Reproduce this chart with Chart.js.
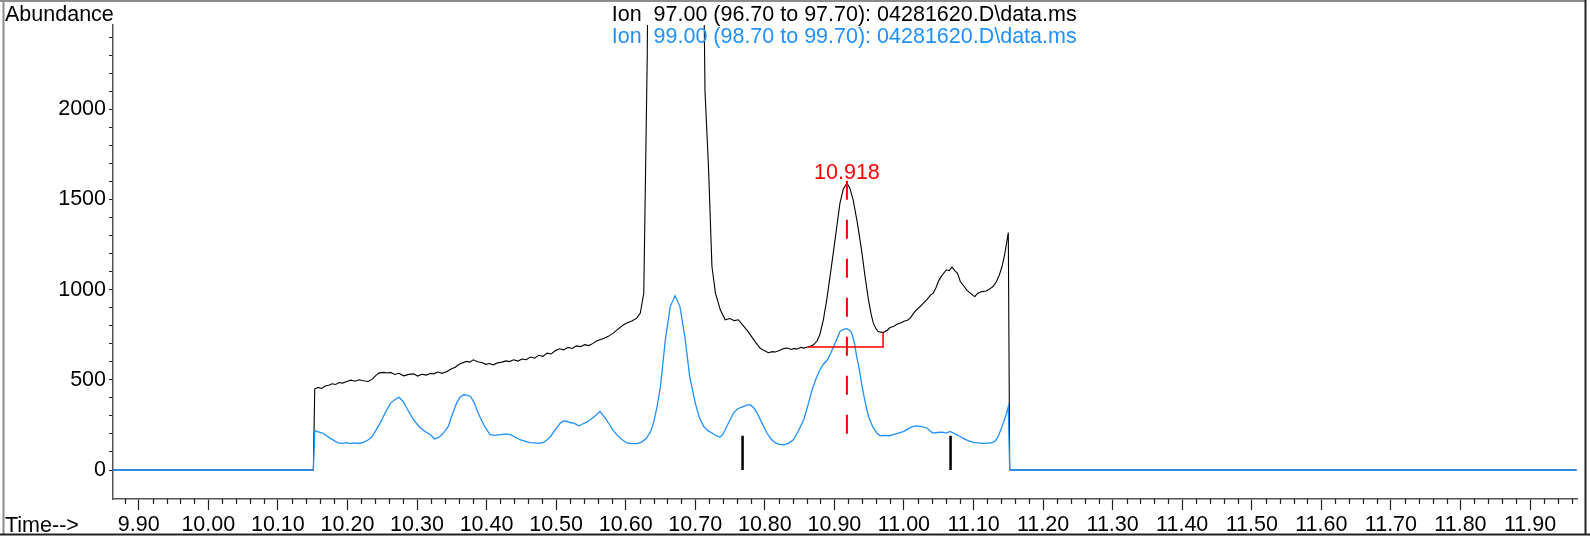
<!DOCTYPE html>
<html>
<head>
<meta charset="utf-8">
<script src="https://cdn.jsdelivr.net/npm/chart.js@4/dist/chart.umd.min.js"></script>
<style>
    html, body { margin: 0; padding: 0; background: #fff; }
    canvas { display: block; }
</style>
</head>
<body>
<canvas id="chromatogram" width="1590" height="540"></canvas>
<script>
const x_tick_labels = [
    "9.90", "10.00", "10.10", "10.20", "10.30", "10.40", "10.50", "10.60", "10.70", "10.80", "10.90",
    "11.00", "11.10", "11.20", "11.30", "11.40", "11.50", "11.60", "11.70", "11.80", "11.90"
]
const y_tick_labels = ["0", "500", "1000", "1500", "2000"]

const title_ion_97 = "Ion  97.00 (96.70 to 97.70): 04281620.D\\data.ms"
const title_ion_99 = "Ion  99.00 (98.70 to 99.70): 04281620.D\\data.ms"

// Ion 97 trace (black)
const time_ion_97 = [
    9.863, 10.151, 10.153, 10.158, 10.163, 10.168, 10.173, 10.178, 10.183, 10.188, 10.193, 10.199,
    10.205, 10.211, 10.217, 10.223, 10.230, 10.236, 10.241, 10.245, 10.252, 10.258, 10.262, 10.268,
    10.274, 10.281, 10.288, 10.295, 10.301, 10.307, 10.313, 10.319, 10.324, 10.330, 10.336, 10.343,
    10.349, 10.355, 10.360, 10.365, 10.371, 10.376, 10.381, 10.387, 10.393, 10.399, 10.404, 10.410,
    10.416, 10.422, 10.428, 10.433, 10.439, 10.445, 10.451, 10.457, 10.463, 10.469, 10.475, 10.481,
    10.487, 10.493, 10.499, 10.505, 10.511, 10.517, 10.523, 10.529, 10.535, 10.541, 10.547, 10.553,
    10.558, 10.563, 10.569, 10.575, 10.582, 10.589, 10.597, 10.603, 10.609, 10.616, 10.621, 10.626,
    10.631, 10.636, 10.645, 10.655, 10.665, 10.672, 10.680, 10.690, 10.700, 10.708, 10.714, 10.719,
    10.724, 10.729, 10.736, 10.743, 10.750, 10.756, 10.762, 10.768, 10.774, 10.780, 10.786, 10.793,
    10.799, 10.805, 10.811, 10.815, 10.821, 10.827, 10.832, 10.838, 10.842, 10.846, 10.852, 10.856,
    10.860, 10.866, 10.870, 10.875, 10.879, 10.884, 10.889, 10.894, 10.899, 10.904, 10.908, 10.913,
    10.918, 10.922, 10.927, 10.933, 10.939, 10.944, 10.949, 10.953, 10.956, 10.960, 10.963, 10.970,
    10.976, 10.980, 10.985, 10.990, 10.995, 11.000, 11.005, 11.009, 11.014, 11.018, 11.023, 11.028,
    11.033, 11.038, 11.042, 11.046, 11.050, 11.054, 11.057, 11.061, 11.065, 11.069, 11.073, 11.077,
    11.081, 11.086, 11.090, 11.095, 11.099, 11.102, 11.106, 11.112, 11.118, 11.123, 11.128, 11.133,
    11.137, 11.141, 11.145, 11.150, 11.152, 11.967
]
const abundance_ion_97 = [
    0, 0, 450, 458, 452, 466, 470, 478, 474, 485, 482, 491,
    498, 492, 500, 495, 491, 505, 525, 537, 541, 538, 541, 530,
    536, 522, 530, 533, 521, 531, 526, 535, 533, 543, 536, 546,
    560, 570, 585, 593, 602, 598, 611, 600, 596, 586, 590, 583,
    594, 598, 605, 601, 611, 604, 615, 611, 626, 620, 636, 630,
    648, 643, 662, 672, 666, 680, 674, 688, 684, 695, 690, 702,
    715, 722, 730, 741, 759, 781, 805, 818, 826, 842, 870, 981,
    2300, 5200, 11000, 18000, 22500, 23500, 21500, 15500, 9000, 4200, 2100, 1682,
    1128, 981, 888, 833, 840, 828, 833, 805, 777, 745, 712, 676,
    662, 650, 656, 654, 662, 673, 676, 668, 674, 670, 680, 676,
    681, 688, 694, 715, 750, 830, 943, 1080, 1220, 1365, 1479, 1560,
    1590, 1565, 1497, 1370, 1220, 1075, 943, 860, 814, 782, 768, 762,
    775, 790, 796, 808, 815, 825, 830, 842, 870, 888, 905, 925,
    945, 968, 981, 1010, 1050, 1075, 1091, 1110, 1105, 1125, 1105, 1090,
    1045, 1020, 999, 982, 968, 962, 980, 989, 992, 1003, 1017, 1045,
    1080, 1128, 1200, 1316, 0, 0
]

// Ion 99 trace (blue)
const time_ion_99 = [
    9.863, 10.151, 10.153, 10.158, 10.164, 10.170, 10.175, 10.181, 10.187, 10.193, 10.199, 10.204,
    10.210, 10.216, 10.223, 10.229, 10.235, 10.241, 10.247, 10.254, 10.262, 10.268, 10.274, 10.280,
    10.286, 10.291, 10.295, 10.300, 10.305, 10.311, 10.317, 10.321, 10.325, 10.329, 10.333, 10.339,
    10.345, 10.351, 10.357, 10.362, 10.367, 10.372, 10.377, 10.382, 10.386, 10.391, 10.396, 10.400,
    10.405, 10.412, 10.420, 10.428, 10.435, 10.442, 10.448, 10.455, 10.462, 10.468, 10.475, 10.482,
    10.487, 10.492, 10.499, 10.506, 10.511, 10.516, 10.521, 10.526, 10.530, 10.533, 10.538, 10.544,
    10.549, 10.556, 10.563, 10.570, 10.577, 10.582, 10.587, 10.594, 10.602, 10.609, 10.616, 10.623,
    10.630, 10.636, 10.640, 10.645, 10.650, 10.654, 10.657, 10.664, 10.671, 10.678, 10.685, 10.692,
    10.700, 10.706, 10.712, 10.718, 10.724, 10.730, 10.736, 10.740, 10.743, 10.749, 10.755, 10.761,
    10.767, 10.773, 10.779, 10.784, 10.789, 10.796, 10.803, 10.809, 10.815, 10.821, 10.827, 10.834,
    10.841, 10.848, 10.856, 10.862, 10.868, 10.873, 10.878, 10.884, 10.890, 10.895, 10.899, 10.904,
    10.908, 10.913, 10.918, 10.922, 10.925, 10.929, 10.932, 10.936, 10.939, 10.944, 10.949, 10.955,
    10.961, 10.966, 10.972, 10.979, 10.985, 10.992, 11.000, 11.006, 11.012, 11.018, 11.025, 11.033,
    11.038, 11.042, 11.048, 11.055, 11.061, 11.066, 11.071, 11.076, 11.081, 11.088, 11.094, 11.100,
    11.107, 11.113, 11.120, 11.126, 11.131, 11.136, 11.141, 11.146, 11.150, 11.152, 11.967
]
const abundance_ion_99 = [
    0, 0, 218, 212, 205, 190, 177, 163, 150, 148, 152, 146,
    150, 147, 153, 165, 183, 220, 260, 315, 371, 390, 404, 380,
    338, 305, 279, 255, 233, 215, 201, 190, 172, 178, 186, 210,
    242, 310, 371, 405, 417, 415, 408, 375, 334, 290, 251, 225,
    196, 192, 196, 200, 195, 180, 168, 160, 152, 150, 148, 153,
    168, 186, 225, 260, 272, 269, 262, 260, 250, 245, 255, 265,
    279, 300, 325, 290, 251, 220, 196, 170, 150, 146, 146, 155,
    177, 215, 260, 350, 463, 611, 721, 906, 966, 906, 740, 519,
    371, 290, 242, 218, 205, 190, 183, 200, 223, 270, 316, 340,
    349, 358, 362, 345, 316, 260, 205, 172, 150, 142, 140, 148,
    168, 215, 279, 360, 445, 500, 546, 585, 611, 650, 685, 730,
    768, 780, 783, 775, 759, 700, 630, 555, 482, 380, 297, 240,
    205, 190, 192, 190, 196, 205, 214, 228, 240, 245, 240, 233,
    215, 205, 208, 210, 205, 214, 205, 195, 186, 170, 160, 153,
    150, 148, 149, 150, 160, 190, 242, 295, 352, 0, 0
]

// Integration marks for the 10.918 peak
const peak_time = 10.918
const peak_label = "10.918"
const peak_mark_abundance = [1603, 185]
const baseline_time = [10.862, 10.970, 10.970]
const baseline_abundance = [682, 682, 762]
const event_time = [10.768, 11.067]
const event_abundance = [0, 190]

const black = "#000000"
const blue = "#1e90ff"
const red = "#ff0000"
const axis_color = "#555555"
const font_family = "'Liberation Sans', Arial, sans-serif"
const font_size = 21.5

function to_points(times, values)
{
    return times.map((t, i) => ({ x: t, y: values[i] }))
}

const event_points = []
event_time.forEach(t => {
    event_points.push({ x: t, y: event_abundance[0] })
    event_points.push({ x: t, y: event_abundance[1] })
    event_points.push({ x: t, y: null })
})

const decorations = {
    id: "decorations",
    beforeDraw(chart)
    {
        const ctx = chart.ctx
        ctx.save()
        ctx.fillStyle = "#ffffff"
        ctx.fillRect(0, 0, chart.width, chart.height)
        ctx.restore()
    },
    afterDraw(chart)
    {
        const ctx = chart.ctx
        const x_scale = chart.scales.x
        const y_scale = chart.scales.y
        ctx.save()

        // Frame round the whole picture
        ctx.lineWidth = 2
        ctx.strokeStyle = "#8c8c8c"
        ctx.beginPath()
        ctx.moveTo(0, 1)
        ctx.lineTo(1586, 1)
        ctx.moveTo(3.5, 0)
        ctx.lineTo(3.5, 534)
        ctx.stroke()
        ctx.strokeStyle = "#222222"
        ctx.beginPath()
        ctx.moveTo(1585.5, 0)
        ctx.lineTo(1585.5, 534.5)
        ctx.moveTo(0, 534.5)
        ctx.lineTo(chart.width, 534.5)
        ctx.stroke()

        // Minor x ticks every 0.02 min
        ctx.lineWidth = 1.2
        ctx.strokeStyle = "#222222"
        ctx.beginPath()
        for (let k = 490; k <= 600; ++k)
        {
            const t = k * 0.02
            if (k % 5 === 0 || t < x_scale.min || t > x_scale.max)
            {
                continue
            }
            const px = Math.round(x_scale.getPixelForValue(t)) + 0.5
            ctx.moveTo(px, x_scale.top)
            ctx.lineTo(px, x_scale.top + 5)
        }
        ctx.stroke()

        ctx.font = font_size + "px " + font_family
        ctx.textBaseline = "alphabetic"
        ctx.textAlign = "left"

        ctx.fillStyle = black
        ctx.fillText("Abundance", 5, 20.7)
        ctx.fillText("Time-->", 5, 531.7)
        ctx.fillText(title_ion_97, 611.7, 20.7)
        ctx.fillStyle = blue
        ctx.fillText(title_ion_99, 611.7, 43.3)

        ctx.fillStyle = red
        ctx.textAlign = "center"
        ctx.fillText(peak_label, x_scale.getPixelForValue(peak_time), y_scale.getPixelForValue(1603) - 1.5)

        ctx.restore()
    }
}

new Chart(document.getElementById("chromatogram").getContext("2d"), {
    type: "line",
    data: {
        datasets: [
            {
                label: "peak mark",
                data: peak_mark_abundance.map(v => ({ x: peak_time, y: v })),
                borderColor: red,
                borderWidth: 2,
                borderDash: [19, 20],
            },
            {
                label: "baseline",
                data: to_points(baseline_time, baseline_abundance),
                borderColor: red,
                borderWidth: 1.5,
            },
            {
                label: "events",
                data: event_points,
                borderColor: black,
                borderWidth: 2.5,
            },
            {
                label: title_ion_99,
                data: to_points(time_ion_99, abundance_ion_99),
                borderColor: blue,
                borderWidth: 1.3,
            },
            {
                label: title_ion_97,
                data: to_points(time_ion_97, abundance_ion_97),
                borderColor: black,
                borderWidth: 1.1,
            },
        ]
    },
    options: {
        responsive: false,
        animation: false,
        events: [],
        elements: {
            point: { radius: 0 },
            line: { tension: 0, fill: false },
        },
        layout: {
            padding: { top: 25, right: 13, left: 0, bottom: 0 },
        },
        plugins: {
            legend: { display: false },
            tooltip: { enabled: false },
            title: { display: false },
        },
        scales: {
            x: {
                type: "linear",
                min: 9.863,
                max: 11.9675,
                afterBuildTicks: scale => {
                    scale.ticks = x_tick_labels.map(label => ({ value: Number(label) }))
                },
                afterFit: scale => {
                    scale.height = 41
                },
                border: { color: axis_color, width: 1.5 },
                grid: {
                    drawOnChartArea: false,
                    tickLength: 11,
                    tickColor: "#222222",
                    tickWidth: 1.2,
                },
                ticks: {
                    autoSkip: false,
                    maxRotation: 0,
                    padding: 2,
                    color: black,
                    font: { family: font_family, size: font_size },
                    callback: (value, index) => x_tick_labels[index],
                },
            },
            y: {
                type: "linear",
                min: -160.7,
                max: 2467,
                afterBuildTicks: scale => {
                    const ticks = []
                    for (let v = 0; v <= 2400; v += 100)
                    {
                        ticks.push({ value: v })
                    }
                    scale.ticks = ticks
                },
                afterFit: scale => {
                    scale.width = 113
                },
                border: { color: axis_color, width: 1.5 },
                grid: {
                    drawOnChartArea: false,
                    tickLength: 4,
                    tickColor: "#222222",
                    tickWidth: 1,
                },
                ticks: {
                    autoSkip: false,
                    padding: 3,
                    color: black,
                    font: { family: font_family, size: font_size },
                    callback: value => y_tick_labels.includes(String(value)) ? String(value) : "",
                },
            },
        },
    },
    plugins: [decorations],
})
</script>
</body>
</html>
